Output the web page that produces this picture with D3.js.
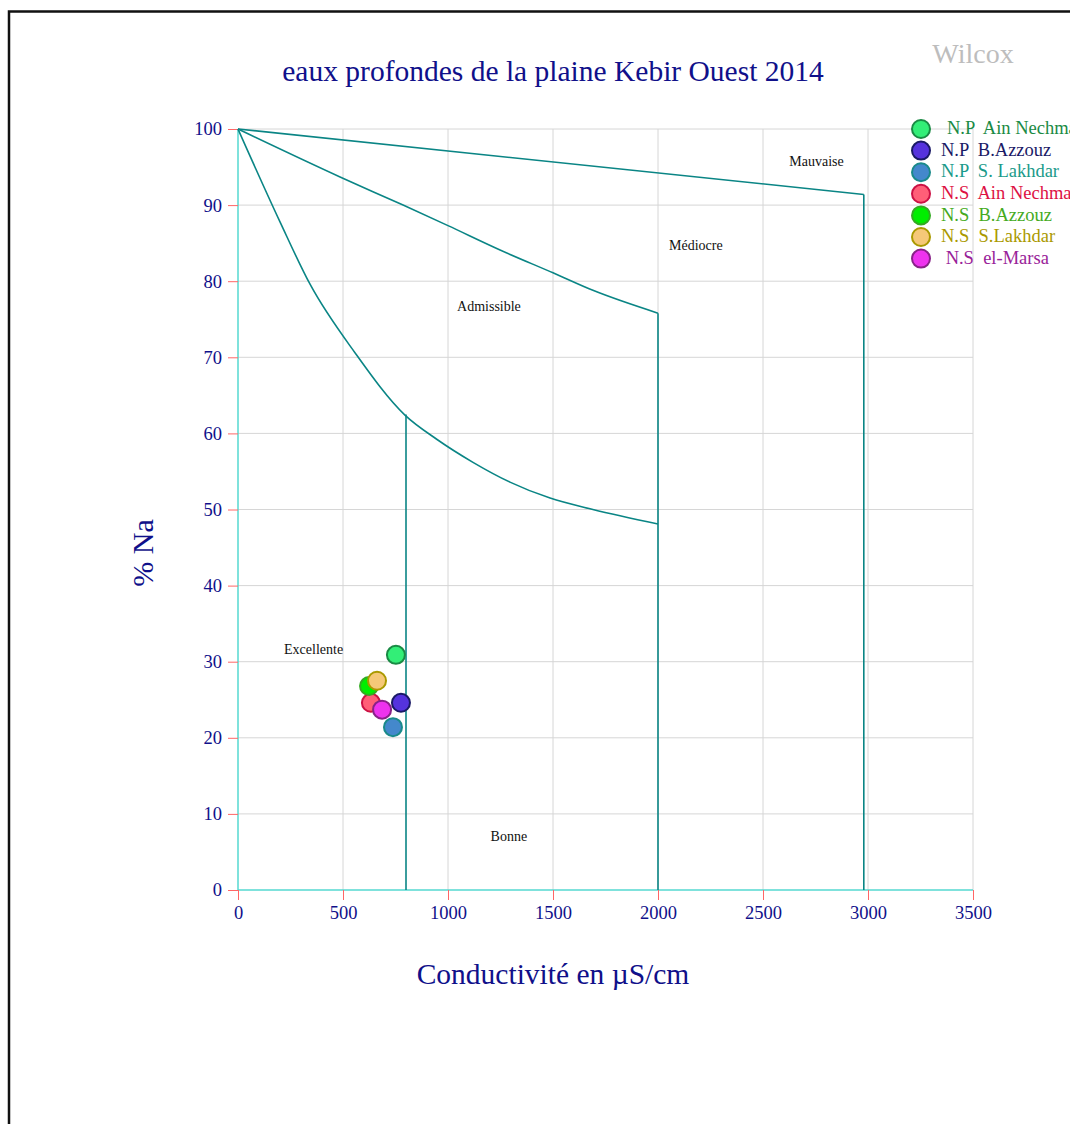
<!DOCTYPE html>
<html><head><meta charset="utf-8">
<script src="https://cdn.jsdelivr.net/npm/d3@7"></script>
<style>body{margin:0;background:#fff;} text{font-family:"Liberation Serif","Times New Roman",serif;}</style>
</head><body><svg id="c" width="1070" height="1124"></svg>
<script>
// ---- data ----
const xTicks = [0, 500, 1000, 1500, 2000, 2500, 3000, 3500];
const yTicks = [0, 10, 20, 30, 40, 50, 60, 70, 80, 90, 100];
// boundary lines of the Wilcox diagram [conductivity, %Na]
const curveMauvaise = [[0,100],[2980,91.4]];
const curveMediocre = [[0,100],[486,93.7],[786,90.0],[1000,87.3],[1248,84.1],[1500,81.1],[1690,78.8],[2000,75.8]];
const curveAdmissible = [[0,100],[200,87.8],[343,79.6],[557,70.6],[795,62.4],[948,59.2],[1119,56.2],[1295,53.6],[1486,51.5],[1690,50.0],[2000,48.1]];
const verticals = [[2980,91.4],[2000,75.8],[800,62.5]];
const zoneNames = ["Mauvaise","Médiocre","Admissible","Excellente","Bonne"];
const zoneX = [2755, 2180, 1195, 360, 1290];
const zoneY = [95.5, 84.5, 76.5, 31.5, 6.8];
const sampleNames = ["N.P  Ain Nechma","N.P  B.Azzouz","N.P  S. Lakhdar","N.S  Ain Nechma","N.S  B.Azzouz","N.S  S.Lakhdar"," N.S  el-Marsa"];
const sampleCond = [752, 776, 738, 633, 624, 662, 686];
const sampleNa = [30.9, 24.6, 21.4, 24.6, 26.8, 27.5, 23.7];
const fillColors = ["#33ee77","#5533dd","#4488cc","#ff5f78","#00ee00","#f5c878","#ee33ee"];
const strokeColors = ["#1a8a44","#1a1a66","#1a8a8a","#cc1144","#33aa22","#aa9900","#882288"];
const textColors = ["#1a8a44","#1a1a66","#1a9a8a","#dd1144","#44aa22","#aa9900","#992299"];

// ---- chart ----
const svg = d3.select("#c");
const L = 238, R = 973, T = 129, B = 890;
const x = d3.scaleLinear().domain([0,3500]).range([L,R]);
const y = d3.scaleLinear().domain([0,100]).range([B,T]);
const navy = "#10108a";

svg.append("rect").attr("x",9).attr("y",11.5).attr("width",1100).attr("height",1200)
  .attr("fill","none").attr("stroke","#111").attr("stroke-width",2.5);

// grid
svg.append("g").selectAll("line").data(xTicks.slice(1)).join("line")
  .attr("x1",d=>x(d)).attr("x2",d=>x(d)).attr("y1",T).attr("y2",B)
  .attr("stroke","#d6d6d6").attr("stroke-width",1);
svg.append("g").selectAll("line").data(yTicks.slice(1)).join("line")
  .attr("x1",L).attr("x2",R).attr("y1",d=>y(d)).attr("y2",d=>y(d))
  .attr("stroke","#d6d6d6").attr("stroke-width",1);

// axes
const xAxis = svg.append("g").attr("transform",`translate(0,${B})`)
  .call(d3.axisBottom(x).tickValues(xTicks).tickSize(10).tickPadding(6).tickFormat(d3.format("d")));
const yAxis = svg.append("g").attr("transform",`translate(${L},0)`)
  .call(d3.axisLeft(y).tickValues(yTicks).tickSize(10).tickPadding(6));
[xAxis,yAxis].forEach(a=>{
  a.select(".domain").attr("stroke","#55d8d0").attr("stroke-width",1.5);
  a.selectAll(".tick line").attr("stroke","#ff6666");
  a.selectAll(".tick text").attr("fill",navy).style("font-size","18.5px")
   .style("font-family","'Liberation Serif',serif");
});
xAxis.select(".domain").attr("d",`M${L},0H${R}`);
yAxis.select(".domain").attr("d",`M0,${B}V${T}`);

// boundary lines
const smooth = d3.line().x(d=>x(d[0])).y(d=>y(d[1])).curve(d3.curveMonotoneX);
[curveMauvaise,curveMediocre,curveAdmissible].forEach(l=>{
  svg.append("path").datum(l).attr("d",smooth).attr("fill","none")
    .attr("stroke","#0a8585").attr("stroke-width",1.6);
});
svg.append("g").selectAll("line").data(verticals).join("line")
  .attr("x1",d=>x(d[0])).attr("x2",d=>x(d[0])).attr("y1",d=>y(d[1])).attr("y2",y(0))
  .attr("stroke","#0a8585").attr("stroke-width",1.6);

// zone labels
svg.append("g").selectAll("text").data(zoneNames).join("text")
  .attr("x",(d,i)=>x(zoneX[i])).attr("y",(d,i)=>y(zoneY[i]))
  .attr("text-anchor","middle").attr("dominant-baseline","middle")
  .style("font-size","14px").attr("fill","#111").text(d=>d);

// points
svg.append("g").selectAll("circle").data(sampleNames).join("circle")
  .attr("cx",(d,i)=>x(sampleCond[i])).attr("cy",(d,i)=>y(sampleNa[i])).attr("r",9)
  .attr("fill",(d,i)=>fillColors[i]).attr("stroke",(d,i)=>strokeColors[i]).attr("stroke-width",2);

// legend
const lg = svg.append("g");
lg.selectAll("circle").data(sampleNames).join("circle")
  .attr("cx",921).attr("cy",(d,i)=>129+i*21.6).attr("r",9)
  .attr("fill",(d,i)=>fillColors[i]).attr("stroke",(d,i)=>strokeColors[i]).attr("stroke-width",2);
lg.selectAll("text").data(sampleNames).join("text")
  .attr("x",(d,i)=>i===0?947:941).attr("y",(d,i)=>130+i*21.6).attr("dominant-baseline","middle")
  .attr("fill",(d,i)=>textColors[i]).style("font-size","18.5px").style("white-space","pre").text(d=>d);

// titles
svg.append("text").attr("x",553).attr("y",81).attr("text-anchor","middle")
  .attr("fill",navy).style("font-size","29.5px").text("eaux profondes de la plaine Kebir Ouest 2014");
svg.append("text").attr("x",973).attr("y",63).attr("text-anchor","middle")
  .attr("fill","#bdbdbd").style("font-size","28px").text("Wilcox");
svg.append("text").attr("x",553).attr("y",984).attr("text-anchor","middle")
  .attr("fill",navy).style("font-size","29.5px").text("Conductivité en µS/cm");
svg.append("text").attr("transform","translate(153,553) rotate(-90)").attr("text-anchor","middle")
  .attr("fill",navy).style("font-size","30px").text("% Na");
</script></body></html>
